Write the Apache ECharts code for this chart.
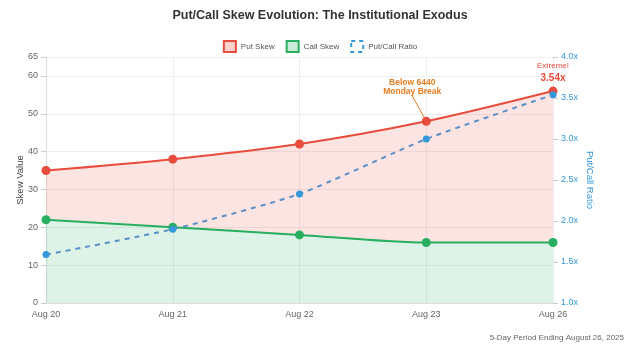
<!DOCTYPE html>
<html><head><meta charset="utf-8">
<script src="https://cdn.jsdelivr.net/npm/echarts@6/dist/echarts.min.js"></script>
<style>html,body{margin:0;padding:0;background:#fff}#c{width:640px;height:352px}</style>
</head><body><div id="c"></div>
<script>
const categories = ['Aug 20','Aug 21','Aug 22','Aug 23','Aug 26'];
const putSkew = [35, 38, 42, 48, 56];
const callSkew = [22, 20, 18, 16, 16];
const putCallRatio = [1.59, 1.90, 2.33, 3.00, 3.54];
const leftTicks = {min:0, max:65, interval:10};
const rightTicks = {min:1.0, max:4.0, interval:0.5};

const chart = echarts.init(document.getElementById('c'), null, {renderer:'canvas'});
const RED='#e74c3c', GREEN='#27ae60', BLUE='#3498db', ORANGE='#e67e22';
const SM = 0.3;
const band = putSkew.map((v,i)=>v-callSkew[i]);
const putData = putSkew.map((v,i)=> i===3 ? {value:v, labelLine:{show:true,lineStyle:{color:ORANGE,width:1}}} : v);
chart.setOption({
  animation:false,
  title:{text:'Put/Call Skew Evolution: The Institutional Exodus',left:'center',top:4,
    textStyle:{fontSize:12.5,fontWeight:'bold',color:'#333',fontFamily:'Liberation Sans, Arial, sans-serif'}},
  legend:{top:35,left:'center',itemWidth:12,itemHeight:11,itemGap:11,icon:'rect',
    textStyle:{fontSize:8,color:'#555'},
    data:[
      {name:'Put Skew',itemStyle:{color:'rgba(231,76,60,0.25)',borderColor:RED,borderWidth:2}},
      {name:'Call Skew',itemStyle:{color:'rgba(39,174,96,0.25)',borderColor:GREEN,borderWidth:2}},
      {name:'Put/Call Ratio',itemStyle:{color:'#fff',borderColor:BLUE,borderWidth:2,borderType:[4,4]}}
    ]},
  grid:{left:46,right:87,top:57,bottom:49},
  xAxis:{type:'category',data:categories,boundaryGap:false,
    axisLine:{lineStyle:{color:'#ddd'}},axisTick:{show:false},
    axisLabel:{fontSize:9,color:'#666',margin:7},
    splitLine:{show:true,lineStyle:{color:'#eee'}}},
  yAxis:[
    {type:'value',min:leftTicks.min,max:leftTicks.max,interval:leftTicks.interval,
     name:'Skew Value',nameLocation:'middle',nameGap:21,nameMoveOverlap:false,nameTextStyle:{fontSize:9.5,color:'#444'},
     axisLine:{show:true,lineStyle:{color:'#ddd'}},axisTick:{show:true,lineStyle:{color:'#ccc'}},
     axisLabel:{fontSize:9,color:'#666'},splitLine:{lineStyle:{color:'#eee'}}},
    {type:'value',min:rightTicks.min,max:rightTicks.max,interval:rightTicks.interval,position:'right',
     name:'Put/Call Ratio',nameLocation:'middle',nameGap:32,nameRotate:-90,nameMoveOverlap:false,nameTextStyle:{fontSize:9.5,color:BLUE},
     axisLine:{show:false},axisTick:{show:true,lineStyle:{color:'#ccc'}},
     axisLabel:{fontSize:9,color:BLUE,formatter:v=>v.toFixed(1)+'x'},splitLine:{show:false}}
  ],
  series:[
    {name:'callBase',type:'line',stack:'band',data:callSkew,smooth:SM,symbol:'none',silent:true,
     lineStyle:{opacity:0},z:1},
    {name:'putBand',type:'line',stack:'band',data:band,smooth:SM,symbol:'none',silent:true,
     lineStyle:{opacity:0},areaStyle:{color:'rgba(231,76,60,0.22)'},z:1},
    {name:'Call Skew',type:'line',data:callSkew,smooth:SM,symbol:'circle',symbolSize:9,
     itemStyle:{color:GREEN},lineStyle:{color:GREEN,width:2},
     areaStyle:{color:'rgba(39,174,96,0.22)'},z:3},
    {name:'Put Skew',type:'line',data:putData,smooth:SM,symbol:'circle',symbolSize:9,
     itemStyle:{color:RED},lineStyle:{color:RED,width:2},z:3,
     label:{show:true,position:'top',distance:2,
       formatter:p=>{
         if(p.dataIndex===3) return '{o|Below 6440}\n{o|Monday Break}';
         if(p.dataIndex===4) return '{e|Extreme!}\n{v|'+putCallRatio[4].toFixed(2)+'x}';
         return '';
       },
       rich:{
         o:{fontSize:8.5,fontWeight:'bold',color:ORANGE,align:'center',lineHeight:9},
         e:{fontSize:8,color:RED,align:'center',lineHeight:13},
         v:{fontSize:10,fontWeight:'bold',color:RED,align:'center',lineHeight:12}
       }},
     labelLayout:p=>p.dataIndex===3?{dx:-14,dy:-19}:{},
     labelLine:{show:false}
    },
    {name:'Put/Call Ratio',type:'line',yAxisIndex:1,data:putCallRatio,smooth:0.2,symbol:'circle',symbolSize:7,
     itemStyle:{color:BLUE},lineStyle:{color:'#5b8fc7',width:2,type:[5,5]},z:4}
  ],
  graphic:[{type:'text',right:16,bottom:10,style:{text:'5-Day Period Ending August 26, 2025',fontSize:8,fill:'#666'}}]
});
</script></body></html>
